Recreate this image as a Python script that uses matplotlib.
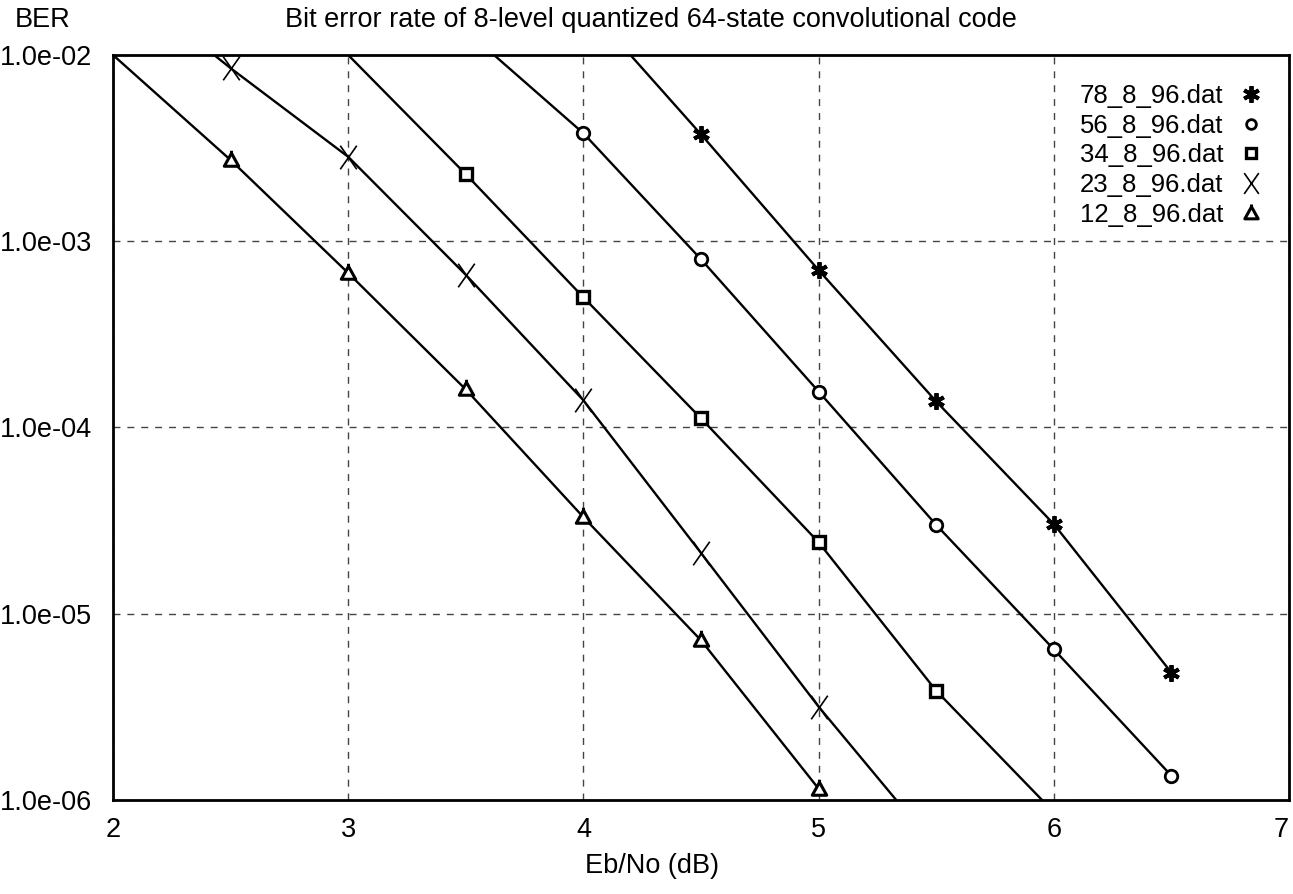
import matplotlib
matplotlib.use('Agg')
import matplotlib.pyplot as plt
from matplotlib.path import Path

plt.rcParams['font.family'] = ['Liberation Sans', 'DejaVu Sans']

# ── Data ──────────────────────────────────────────────────────────────────
names = ['78_8_96.dat', '56_8_96.dat', '34_8_96.dat', '23_8_96.dat', '12_8_96.dat']

x_78 = [4.5, 5.0, 5.5, 6.0, 6.5]
ber_78 = [3.75e-3, 7.0e-4, 1.38e-4, 3.03e-5, 4.83e-6]

x_56 = [4.0, 4.5, 5.0, 5.5, 6.0, 6.5]
ber_56 = [3.8e-3, 8.0e-4, 1.56e-4, 3.0e-5, 6.44e-6, 1.35e-6]

x_34 = [3.5, 4.0, 4.5, 5.0, 5.5]
ber_34 = [2.29e-3, 5.0e-4, 1.12e-4, 2.42e-5, 3.86e-6]

x_23 = [2.5, 3.0, 3.5, 4.0, 4.5, 5.0]
ber_23 = [8.5e-3, 2.84e-3, 6.6e-4, 1.4e-4, 2.12e-5, 3.17e-6]

x_12 = [2.5, 3.0, 3.5, 4.0, 4.5, 5.0]
ber_12 = [2.73e-3, 6.75e-4, 1.6e-4, 3.3e-5, 7.2e-6, 1.15e-6]

# where each fitted curve enters / leaves the plot box (None = ends at last point)
curve_start = [(4.2, 1e-2), (3.62, 1e-2), (3.0, 1e-2), (2.43, 1e-2), (2.0, 1e-2)]
curve_end = [None, None, (5.95, 1e-6), (5.33, 1e-6), None]

x_ticks = [2, 3, 4, 5, 6, 7]
y_ticks = [1e-6, 1e-5, 1e-4, 1e-3, 1e-2]
y_labels = ['1.0e-06', '1.0e-05', '1.0e-04', '1.0e-03', '1.0e-02']

# ── Markers ───────────────────────────────────────────────────────────────
x_mark = Path([(-0.7, -1), (0.7, 1), (-0.7, 1), (0.7, -1)],
              [Path.MOVETO, Path.LINETO, Path.MOVETO, Path.LINETO])
tri_mark = Path([(-1, -0.8), (1, -0.8), (0, 1), (-1, -0.8), (0, 1), (0, 1.35)],
                [Path.MOVETO, Path.LINETO, Path.LINETO, Path.CLOSEPOLY,
                 Path.MOVETO, Path.LINETO])

styles = [
    dict(marker=(6, 2, 0), markersize=12, mew=2.8),
    dict(marker='o', markersize=9, mew=2.0),
    dict(marker='s', markersize=9, mew=2.4),
    dict(marker=x_mark, markersize=17, mew=1.2),
    dict(marker=tri_mark, markersize=14, mew=2.2),
]
leg_sizes = [12, 7, 7, 15, 13]

series = [(x_78, ber_78), (x_56, ber_56), (x_34, ber_34), (x_23, ber_23), (x_12, ber_12)]

# ── Figure ────────────────────────────────────────────────────────────────
fig = plt.figure(figsize=(12.93, 8.94), dpi=100)
ax = fig.add_axes([113 / 1293, 1 - 800 / 894, (1289 - 113) / 1293, (800 - 55) / 894])

handles = []
for (xs, ys), st, s, e, ls in zip(series, styles, curve_start, curve_end, leg_sizes):
    lx = [s[0]] + list(xs)
    ly = [s[1]] + list(ys)
    if e is not None:
        lx.append(e[0])
        ly.append(e[1])
    ax.plot(lx, ly, color='black', lw=1.7, zorder=3)
    ax.plot(xs, ys, ls='none', color='black', mfc='white', mec='black',
            zorder=4, clip_on=False, **st)
    hst = dict(st, markersize=ls)
    h, = ax.plot([], [], ls='none', color='black', mfc='white', mec='black', **hst)
    handles.append(h)

ax.set_yscale('log')
ax.set_xlim(2, 7)
ax.set_ylim(1e-6, 1e-2)
ax.set_xticks(x_ticks)
ax.set_xticklabels([str(t) for t in x_ticks])
ax.set_yticks(y_ticks)
ax.set_yticklabels(y_labels)
ax.minorticks_off()
ax.tick_params(length=0, labelsize=19.5, pad=15)
ax.tick_params(axis='x', pad=12)
ax.get_xticklabels()[-1].set_horizontalalignment('right')

ax.grid(True, color='#444444', ls=(0, (5, 5)), lw=1.0)
for sp in ax.spines.values():
    sp.set_linewidth(2.0)
    sp.set_color('black')

leg = ax.legend(handles, names, loc='upper right', frameon=False, markerfirst=False,
                fontsize=18.5, handlelength=0.8, handletextpad=0.7, labelspacing=0.22,
                borderaxespad=0.3, bbox_to_anchor=(0.992, 0.985))

fig.text(15 / 1293, 1 - 20 / 894, 'BER', fontsize=19.5, va='center', ha='left')
fig.text(651 / 1293, 1 - 20 / 894, 'Bit error rate of 8-level quantized 64-state convolutional code',
         fontsize=19.5, va='center', ha='center')
fig.text(652 / 1293, 1 - 866 / 894, 'Eb/No (dB)', fontsize=19.5, va='center', ha='center')

fig.savefig('out.png', dpi=100, facecolor='white')
